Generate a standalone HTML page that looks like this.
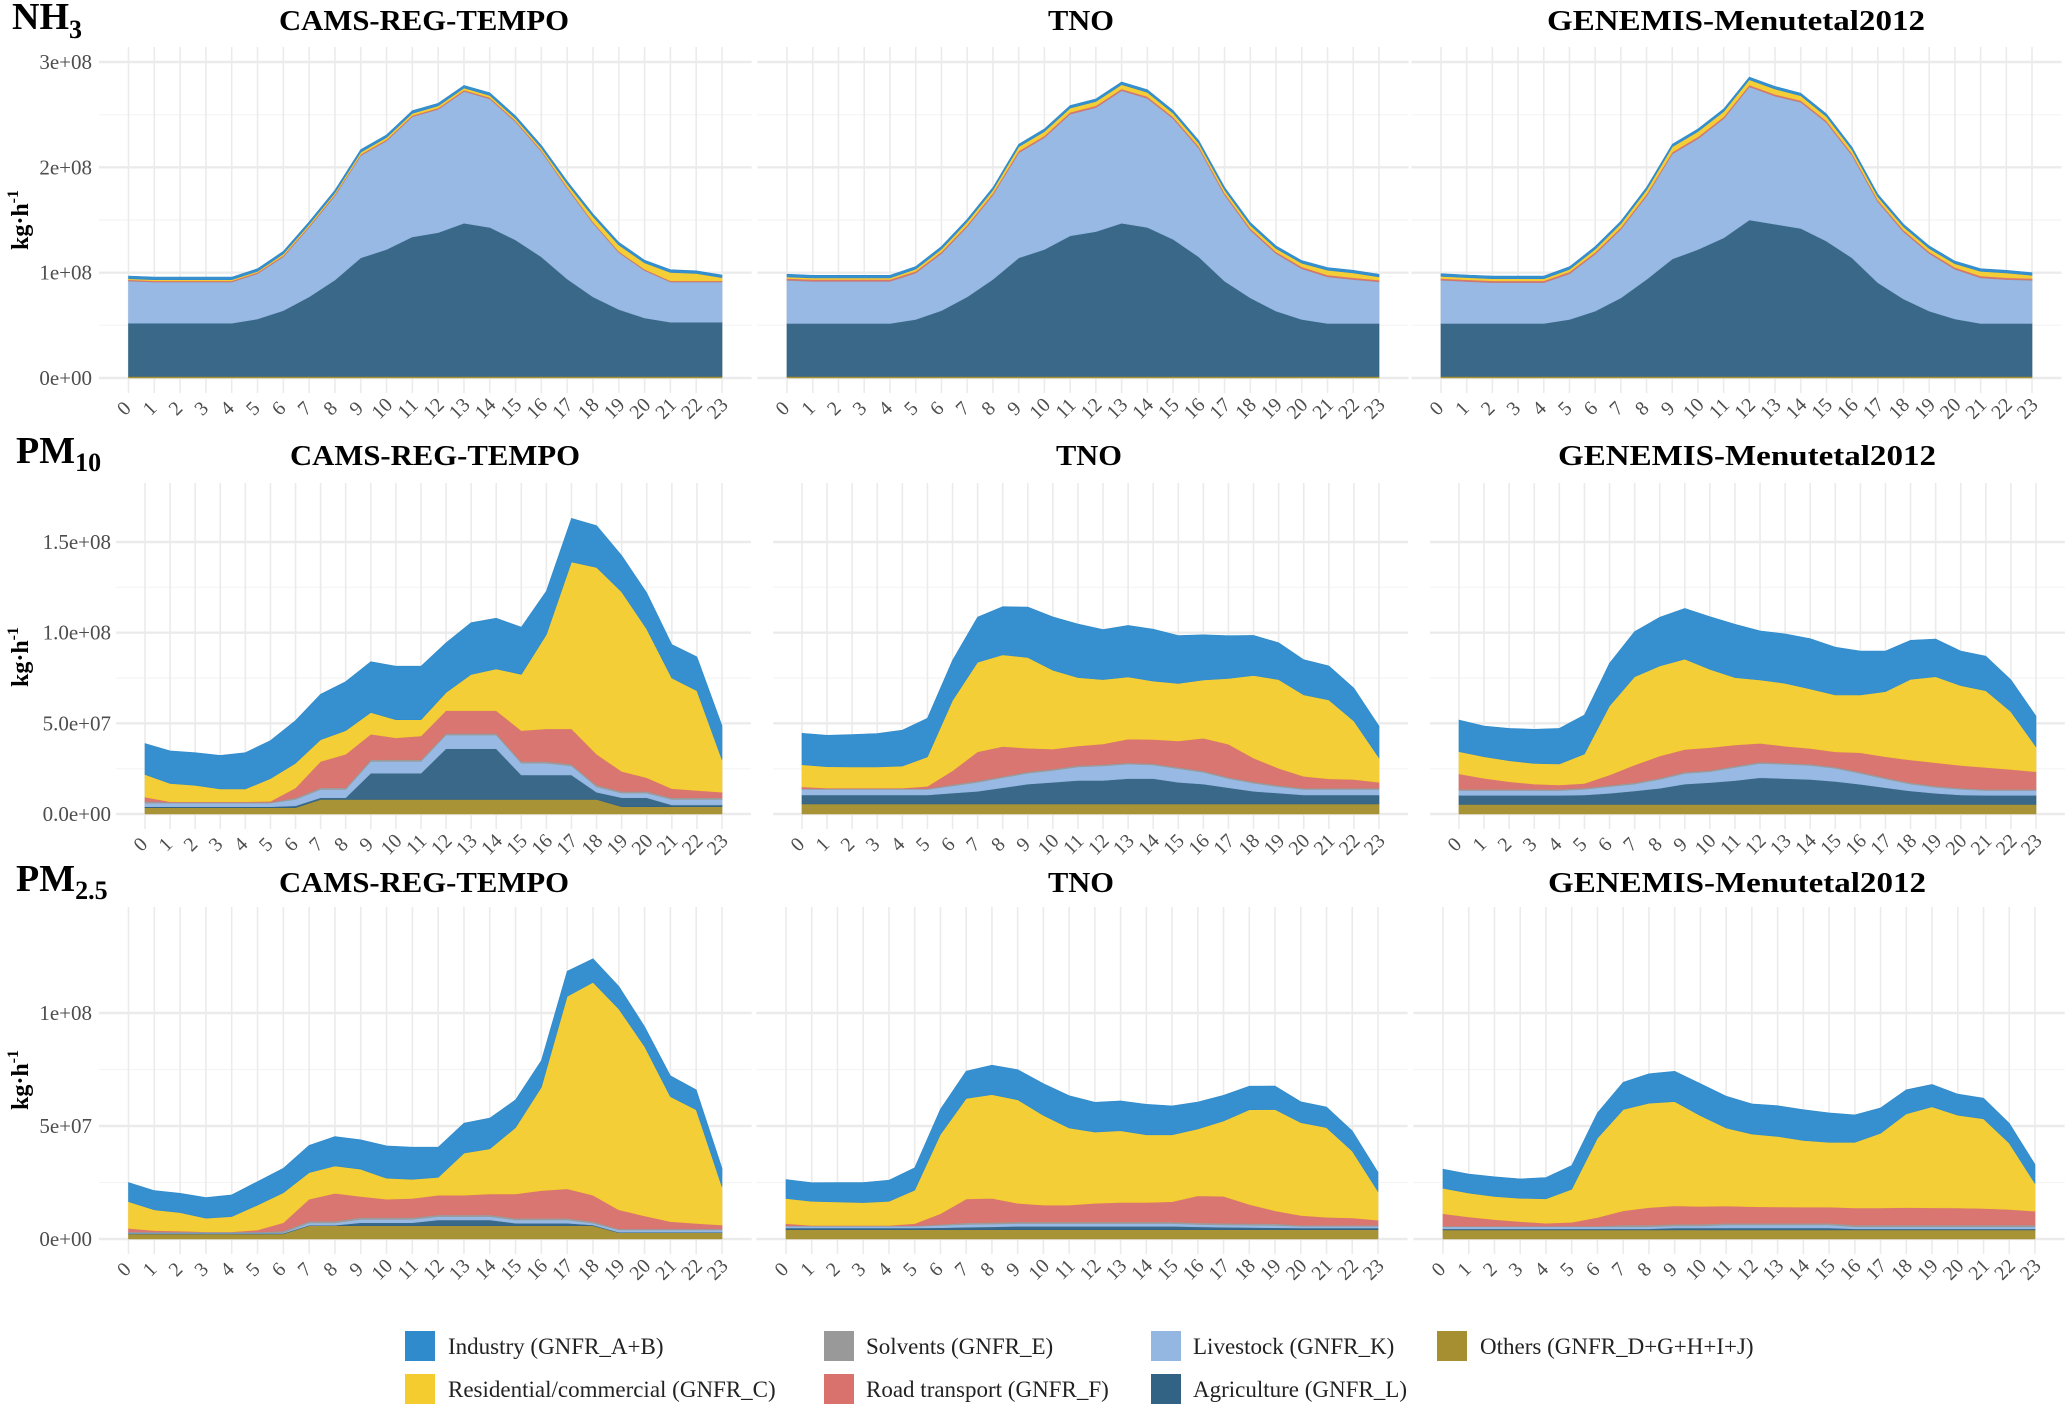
<!DOCTYPE html>
<html><head><meta charset="utf-8"><style>
html,body{margin:0;padding:0;background:#fff;}
svg{display:block;font-family:"Liberation Serif","DejaVu Serif",serif;}
</style></head><body>
<svg id="chart" width="2067" height="1407" viewBox="0 0 2067 1407" xmlns="http://www.w3.org/2000/svg">
<g id="panels"></g>
<g font-weight="bold" fill="#000">
<text x="12" y="29" font-size="38">NH<tspan font-size="26" dy="9">3</tspan></text>
<text x="16" y="463" font-size="38">PM<tspan font-size="26" dy="8">10</tspan></text>
<text x="16" y="891" font-size="38">PM<tspan font-size="26" dy="8">2.5</tspan></text>
</g>
<g font-size="23" fill="#222">
<g><rect x="405" y="1331" width="30" height="30" fill="#2f8bcc"/><text x="448" y="1354">Industry (GNFR_A+B)</text></g>
<g><rect x="824" y="1331" width="30" height="30" fill="#999999"/><text x="866" y="1354">Solvents (GNFR_E)</text></g>
<g><rect x="1151" y="1331" width="30" height="30" fill="#94b7e2"/><text x="1193" y="1354">Livestock (GNFR_K)</text></g>
<g><rect x="1437" y="1331" width="30" height="30" fill="#a58f30"/><text x="1480" y="1354">Others (GNFR_D+G+H+I+J)</text></g>
<g><rect x="405" y="1374" width="30" height="30" fill="#f4cc30"/><text x="448" y="1397">Residential/commercial (GNFR_C)</text></g>
<g><rect x="824" y="1374" width="30" height="30" fill="#d9726c"/><text x="866" y="1397">Road transport (GNFR_F)</text></g>
<g><rect x="1151" y="1374" width="30" height="30" fill="#336384"/><text x="1193" y="1397">Agriculture (GNFR_L)</text></g>
</g>
</svg>
<script>
// values in units of 1e6 kg/h, hours 0..23
const hours = ["0","1","2","3","4","5","6","7","8","9","10","11","12","13","14","15","16","17","18","19","20","21","22","23"];
const sectors = ["oth","agri","live","solv","road","resid","ind"];
const nh3YTicks = [0,100,200,300];
const nh3YLabels = ["0e+00","1e+08","2e+08","3e+08"];
const pm10YTicks = [0,50,100,150];
const pm10YLabels = ["0.0e+00","5.0e+07","1.0e+08","1.5e+08"];
const pm25YTicks = [0,50,100];
const pm25YLabels = ["0e+00","5e+07","1e+08"];

// NH3 CAMS
const nh3_cams_oth = [1.5,1.5,1.5,1.5,1.5,1.5,1.5,1.5,1.5,1.5,1.5,1.5,1.5,1.5,1.5,1.5,1.5,1.5,1.5,1.5,1.5,1.5,1.5,1.5];
const nh3_cams_agri = [50.5,50.5,50.5,50.5,50.5,54.5,62.5,75.5,91.5,112.5,120.5,132.5,136.5,145.5,141.5,129.5,113.5,92.5,75.5,63.5,55.5,51.5,51.5,51.5];
const nh3_cams_live = [40,39,39,39,39,43,51,66,80,97,103,114,117,125,122,112,100,86,70,54,45,38,38,38];
const nh3_cams_solv = [0.3,0.3,0.3,0.3,0.3,0.3,0.3,0.3,0.3,0.3,0.3,0.3,0.3,0.3,0.3,0.3,0.3,0.3,0.3,0.3,0.3,0.3,0.3,0.3];
const nh3_cams_road = [1,1,1,1,1,1,1,1,1,1,1,1,1,1,1,1,1,1,1,1,1,1,1,1];
const nh3_cams_resid = [1,1,1,1,1,1,1.5,1.5,1.5,2,2,2,2,2,2,2,2,3,5,6,6,8,7,3];
const nh3_cams_ind = [2.5,2.5,2.5,2.5,2.5,2.5,2.5,2.5,2.5,2.5,2.5,2.5,2.5,2.5,2.5,2.5,2.5,2.5,2.5,2.5,2.5,2.5,2.5,2.5];
// NH3 TNO
const nh3_tno_oth = [1.5,1.5,1.5,1.5,1.5,1.5,1.5,1.5,1.5,1.5,1.5,1.5,1.5,1.5,1.5,1.5,1.5,1.5,1.5,1.5,1.5,1.5,1.5,1.5];
const nh3_tno_agri = [50.2,50.2,50.2,50.2,50.2,54.1,62.5,75.5,92.1,112.5,120.5,133.5,137.5,145.5,141.5,130.2,113.5,90.5,74.5,62,54.1,50.2,50.2,50.2];
const nh3_tno_live = [41,40,40,40,40,44,54,66.5,80,99.7,106.2,115.4,117.7,125.7,122.4,114.5,103.1,81.7,64.3,54.6,48.1,44.3,41.7,39.5];
const nh3_tno_solv = [0.3,0.3,0.3,0.3,0.3,0.3,0.3,0.3,0.3,0.3,0.3,0.3,0.3,0.3,0.3,0.3,0.3,0.3,0.3,0.3,0.3,0.3,0.3,0.3];
const nh3_tno_road = [1.5,1.5,1.5,1.5,1.5,1.5,1.5,1.5,1.5,1.5,1.5,1.5,1.5,1.5,1.5,1.5,1.5,1.5,1.5,1.5,1.5,1.5,1.5,1.5];
const nh3_tno_resid = [1.5,1.5,1.5,1.5,1.5,2,2.5,3,3,4,4,4,4,4,4,3.5,3,3,3,3,3.5,4.5,4.5,3];
const nh3_tno_ind = [2.5,2.5,2.5,2.5,2.5,2.5,2.5,2.5,2.5,2.5,2.5,2.5,2.5,2.5,2.5,2.5,2.5,2.5,2.5,2.5,2.5,2.5,2.5,2.5];
// NH3 GENEMIS
const nh3_gen_oth = [1.5,1.5,1.5,1.5,1.5,1.5,1.5,1.5,1.5,1.5,1.5,1.5,1.5,1.5,1.5,1.5,1.5,1.5,1.5,1.5,1.5,1.5,1.5,1.5];
const nh3_gen_agri = [50.2,50.2,50.2,50.2,50.2,54.1,62,74.5,92.1,111.5,120.5,131.5,148.5,144.5,140.5,128.5,112.5,89,73.5,62,54.5,50.2,50.2,50.2];
const nh3_gen_live = [41,39.8,38.8,38.8,38.8,43.3,54,65.2,79.1,99.7,105.2,113.2,126.4,121.5,119.7,112.5,97.2,76.8,63.7,54.6,47.2,43.3,41.7,41];
const nh3_gen_solv = [0.3,0.3,0.3,0.3,0.3,0.3,0.3,0.3,0.3,0.3,0.3,0.3,0.3,0.3,0.3,0.3,0.3,0.3,0.3,0.3,0.3,0.3,0.3,0.3];
const nh3_gen_road = [1.5,1.5,1.5,1.5,1.5,1.5,1.5,1.5,1.5,1.5,1.5,1.5,1.5,1.5,1.5,1.5,1.5,1.5,1.5,1.5,1.5,1.5,1.5,1.5];
const nh3_gen_resid = [2,2,2,2,2,2.5,3,3.5,4,5,5,5,5,5,4.5,4,3.5,3,3,3,3.5,4.5,4.5,3];
const nh3_gen_ind = [2.5,2.5,2.5,2.5,2.5,2.5,2.5,2.5,2.5,2.5,2.5,2.5,2.5,2.5,2.5,2.5,2.5,2.5,2.5,2.5,2.5,2.5,2.5,2.5];
// PM10 CAMS
const pm10_cams_oth = [3.5,3.5,3.5,3.5,3.5,3.5,3.5,8,8,8,8,8,8,8,8,8,8,8,8,4,4,4,4,4];
const pm10_cams_agri = [0.5,0.5,0.5,0.5,0.5,0.5,1,1,1,14.5,14.5,14.5,28,28,28,13.5,13.5,13.5,4,5,5,1,1,1];
const pm10_cams_live = [2,2,2,2,2,2,3.5,4.5,4.5,6.5,6.5,6.5,7.5,7.5,7.5,6.5,6.5,5,3,2.5,2.5,3,3,3];
const pm10_cams_solv = [1,0.5,0.5,0.5,0.5,0.5,1,1,1,1,1,1,1,1,1,1,1,1,1,1,1,1,1,1];
const pm10_cams_road = [2.3,0.3,0.3,0.3,0.3,0.5,5.4,14.5,18.5,14,12,13,12.5,12.5,12.5,17,18,19.5,17,11,7.5,5,4,3];
const pm10_cams_resid = [12.5,10,9,7,7,12.5,13.6,12,13,12,10,9,10,20,23,31,52,92,103,99,82,61,55,18];
const pm10_cams_ind = [17,18,18,18.5,20,21,23.5,25,27,28,29.5,29.5,27.4,28.5,28,26,24,24,23,20,20,18.5,18.7,18.7];
// PM10 TNO
const pm10_tno_oth = [5.5,5.5,5.5,5.5,5.5,5.5,5.5,5.5,5.5,5.5,5.5,5.5,5.5,5.5,5.5,5.5,5.5,5.5,5.5,5.5,5.5,5.5,5.5,5.5];
const pm10_tno_agri = [5,5,5,5,5,5,6,7,9,11,12,13,13,14,14,12,11,9,7,6,5,5,5,5];
const pm10_tno_live = [3,3,3,3,3,3,4,5,5.5,6,6.5,7.5,8,8,7.5,7.5,6.5,5,4.5,3.5,3,3,3,3];
const pm10_tno_solv = [0.5,0.5,0.5,0.5,0.5,0.5,0.8,0.8,0.8,0.8,0.8,0.8,0.8,0.8,0.8,0.8,0.8,0.8,0.8,0.8,0.8,0.8,0.8,0.8];
const pm10_tno_road = [1,0.3,0.3,0.3,0.3,1.3,7.5,16,16.4,13,11,10.7,11.3,13,13.3,14.5,18,18.2,13,9.4,6.5,5.1,4.7,3.2];
const pm10_tno_resid = [12.2,11.8,11.7,11.7,12.1,16.2,38.8,49.4,50.6,50,43.5,37.7,35.5,34.3,32.2,31.7,32.1,36.3,45.6,48.9,44.9,43.5,32.3,13.5];
const pm10_tno_ind = [17.3,17.3,17.8,18.4,19.8,21.3,22.1,24.9,26.5,27.8,29.4,29.6,27.6,28.4,28.6,26.4,24.9,23.5,22.1,20.3,19.4,18.8,18.1,17.5];
// PM10 GENEMIS
const pm10_gen_oth = [5.3,5.3,5.3,5.3,5.3,5.3,5.3,5.3,5.3,5.3,5.3,5.3,5.3,5.3,5.3,5.3,5.3,5.3,5.3,5.3,5.3,5.3,5.3,5.3];
const pm10_gen_agri = [5,5,5,5,5,5.2,6.1,7.4,8.9,11.2,12,13.1,14.7,14.2,13.8,12.7,11.1,9.2,7.4,6.1,5.2,5,5,5];
const pm10_gen_live = [2.6,2.6,2.6,2.6,2.6,3.1,3.7,3.8,4.9,5.9,6,7.3,7.9,7.9,7.7,7.2,6,4.8,3.8,3.3,3.1,2.6,2.6,2.6];
const pm10_gen_solv = [0.8,0.8,0.8,0.8,0.8,0.8,0.8,0.8,0.8,0.8,0.8,0.8,0.8,0.8,0.8,0.8,0.8,0.8,0.8,0.8,0.8,0.8,0.8,0.8];
const pm10_gen_road = [8.4,6,4.1,2.8,2.3,2.5,5.6,9.7,12.1,12.4,12.5,11.6,10.3,9.2,8.6,8.3,10.6,11.5,12.5,12.8,12.4,12,10.9,9.6];
const pm10_gen_resid = [12.3,11.9,11.6,11.4,11.6,16.2,38.1,48.7,49.6,49.8,43.2,37.1,34.9,34.7,32.8,31.4,31.8,35.9,44.5,47.4,44,42.3,31.8,13.8];
const pm10_gen_ind = [17.4,16.9,17.8,18.8,19.6,21.5,23.5,24.9,26.9,27.9,29,29.4,27.1,27.2,27.7,26.3,24.3,22.4,21.5,20.8,19.1,19,17.6,16.9];
// PM2.5 CAMS
const pm25_cams_oth = [2.2,2.2,2.2,2.2,2.2,2.2,2.2,5.9,5.9,5.9,5.9,5.9,5.9,5.9,5.9,5.9,5.9,5.9,5.9,2.8,2.8,2.8,2.8,2.8];
const pm25_cams_agri = [0.3,0.3,0.3,0.3,0.3,0.3,0.3,0.2,0.2,1.3,1.3,1.3,2.5,2.5,2.5,1.1,1.1,1.1,0.3,0.2,0.2,0.2,0.2,0.2];
const pm25_cams_live = [0.3,0.3,0.3,0.3,0.3,0.3,0.3,1,1,1.5,1.5,1.5,1.5,1.5,1.5,1.4,1.4,1.4,0.8,1,1,1,1,1];
const pm25_cams_solv = [0.3,0.3,0.3,0.3,0.3,0.3,0.8,0.8,0.8,0.8,0.8,0.8,0.8,0.8,0.8,0.8,0.8,0.8,0.8,0.5,0.5,0.5,0.5,0.5];
const pm25_cams_road = [1.6,0.6,0.4,0.1,0.1,0.9,3.6,9.7,12.3,9.3,8.1,8.4,8.7,8.7,9.2,10.7,12.2,13,11.6,8.4,5.7,3.2,2.4,1.7];
const pm25_cams_resid = [11.8,9.2,8.2,6,6.7,11,13.3,11.8,12.1,12.1,9.3,8.5,7.9,18.6,20,29.4,45.8,85.2,94.2,88.9,75,55.3,50.3,17];
const pm25_cams_ind = [8.5,8.5,8.5,9.1,9.6,10.4,10.8,12,13,13,14.3,14.2,13.3,13.3,13.6,12.3,11.8,11.1,10.4,10,8.8,9.2,8.8,8.1];
// PM2.5 TNO
const pm25_tno_oth = [4.1,4.1,4.1,4.1,4.1,4.1,4.1,4.1,4.1,4.1,4.1,4.1,4.1,4.1,4.1,4.1,4.1,4.1,4.1,4.1,4.1,4.1,4.1,4.1];
const pm25_tno_agri = [0.8,0.8,0.8,0.8,0.8,0.8,0.9,1.1,1.3,1.5,1.5,1.5,1.5,1.5,1.5,1.5,1.3,1.1,1,0.9,0.8,0.8,0.8,0.8];
const pm25_tno_live = [0.7,0.7,0.7,0.7,0.7,0.7,1,1.2,1.2,1.2,1.2,1.2,1.2,1.2,1.2,1.2,1,1,1,1,0.7,0.7,0.7,0.7];
const pm25_tno_solv = [0.3,0.3,0.3,0.3,0.3,0.3,0.5,0.8,0.8,0.8,0.8,0.8,0.8,0.8,0.8,0.8,0.8,0.8,0.8,0.8,0.5,0.5,0.5,0.5];
const pm25_tno_road = [0.9,0.1,0.1,0.1,0.1,0.9,4.7,10.5,10.6,8.2,7.4,7.4,8.2,8.6,8.6,8.9,11.9,11.9,8.4,5.7,4.3,3.5,3.2,2.2];
const pm25_tno_resid = [11.1,10.7,10.4,10.1,10.7,14.8,35.1,44.5,45.9,45.8,39.7,34.1,31.5,31.7,29.9,29.6,29.6,33.3,41.9,44.8,41.1,39.7,29.6,12.8];
const pm25_tno_ind = [8.4,8.2,8.6,8.9,9.3,9.9,11.1,12.1,13,13.3,14,14.3,13.2,13.2,13.5,12.8,11.9,11.4,10.4,10.4,9.2,9.1,8.9,8.4];
// PM2.5 GENEMIS
const pm25_gen_oth = [4,4,4,4,4,4,4,4,4,4,4,4,4,4,4,4,4,4,4,4,4,4,4,4];
const pm25_gen_agri = [0.5,0.5,0.5,0.5,0.5,0.5,0.5,0.5,0.5,0.9,0.9,0.9,0.9,0.9,0.9,0.9,0.5,0.5,0.5,0.5,0.5,0.5,0.5,0.5];
const pm25_gen_live = [0.9,0.9,0.9,0.9,0.9,0.9,0.9,0.9,0.9,0.9,0.9,1.3,1.3,1.3,1.3,1.3,0.9,0.9,0.9,0.9,0.9,0.9,0.9,0.9];
const pm25_gen_solv = [0.3,0.3,0.3,0.3,0.3,0.3,0.3,0.8,0.8,0.8,0.8,0.8,0.8,0.8,0.8,0.8,0.8,0.8,0.8,0.8,0.8,0.8,0.8,0.8];
const pm25_gen_road = [5.5,4.1,2.9,2,1.3,1.7,3.8,6.3,7.7,8.1,7.8,7.6,7.3,7.2,7.1,7.1,7.5,7.5,7.7,7.6,7.5,7.3,6.9,6.1];
const pm25_gen_resid = [11.3,10.5,10.2,10.3,10.8,14.6,35.1,44.8,46.2,46.1,40.2,34.5,32.1,31.2,29.5,28.7,29.1,33.1,41.5,44.7,41.1,39.7,29.3,12.3];
const pm25_gen_ind = [8.4,8.4,8.7,8.6,9.4,10.5,11.2,12.1,13,13.4,14.1,14.1,13.4,13.6,13.6,13,12.1,11.2,10.6,9.9,9.3,9.1,8.8,8.4];

const colors = {oth:"#a58f30",agri:"#336384",live:"#94b7e2",solv:"#999999",road:"#d9726c",resid:"#f4cc30",ind:"#2f8bcc"};
const NS = "http://www.w3.org/2000/svg";
function mk(tag, attrs, parent){
  const e = document.createElementNS(NS, tag);
  for (const k in attrs) e.setAttribute(k, attrs[k]);
  parent.appendChild(e);
  return e;
}
const rows = [
  {key:"nh3", top:47, bottom:393, y0:378, yTopVal:300, yTopPx:62, ticks:nh3YTicks, labels:nh3YLabels, labelX:92, titleY:30, axTitleY:220, xLabY:413,
   cols:[[128.5,722],[787,1379],[1441,2032]],
   series:[[nh3_cams_oth,nh3_cams_agri,nh3_cams_live,nh3_cams_solv,nh3_cams_road,nh3_cams_resid,nh3_cams_ind],
           [nh3_tno_oth,nh3_tno_agri,nh3_tno_live,nh3_tno_solv,nh3_tno_road,nh3_tno_resid,nh3_tno_ind],
           [nh3_gen_oth,nh3_gen_agri,nh3_gen_live,nh3_gen_solv,nh3_gen_road,nh3_gen_resid,nh3_gen_ind]]},
  {key:"pm10", top:483, bottom:829, y0:814, yTopVal:150, yTopPx:542, ticks:pm10YTicks, labels:pm10YLabels, labelX:111, titleY:465, axTitleY:657, xLabY:849,
   cols:[[145,722],[802,1379],[1459,2036]],
   series:[[pm10_cams_oth,pm10_cams_agri,pm10_cams_live,pm10_cams_solv,pm10_cams_road,pm10_cams_resid,pm10_cams_ind],
           [pm10_tno_oth,pm10_tno_agri,pm10_tno_live,pm10_tno_solv,pm10_tno_road,pm10_tno_resid,pm10_tno_ind],
           [pm10_gen_oth,pm10_gen_agri,pm10_gen_live,pm10_gen_solv,pm10_gen_road,pm10_gen_resid,pm10_gen_ind]]},
  {key:"pm25", top:907, bottom:1254, y0:1239, yTopVal:100, yTopPx:1013, ticks:pm25YTicks, labels:pm25YLabels, labelX:92, titleY:892, axTitleY:1080, xLabY:1274,
   cols:[[128.5,722],[786,1378],[1443,2035]],
   series:[[pm25_cams_oth,pm25_cams_agri,pm25_cams_live,pm25_cams_solv,pm25_cams_road,pm25_cams_resid,pm25_cams_ind],
           [pm25_tno_oth,pm25_tno_agri,pm25_tno_live,pm25_tno_solv,pm25_tno_road,pm25_tno_resid,pm25_tno_ind],
           [pm25_gen_oth,pm25_gen_agri,pm25_gen_live,pm25_gen_solv,pm25_gen_road,pm25_gen_resid,pm25_gen_ind]]}
];
const titles = ["CAMS-REG-TEMPO","TNO","GENEMIS-Menutetal2012"];
const titleNames = ["cams","tno","genemis"];
const titleCenters = [[424,1081,1736],[435,1089,1747],[424,1081,1737]];
const titleWidths = [290,66,378];
const root = document.getElementById("panels");

rows.forEach((r, ri) => {
  const yScale = v => r.y0 - (v / r.yTopVal) * (r.y0 - r.yTopPx);
  const at = mk("text", {x:0, y:0, "font-size":24, "font-weight":"bold", "text-anchor":"middle", transform:`translate(28,${r.axTitleY}) rotate(-90)`, fill:"#000"}, root);
  
  
  at.textContent = "kg·h";
  const sup = mk("tspan", {"font-size":16, dy:-10}, at);
  sup.textContent = "-1";
  r.cols.forEach((c, ci) => {
    const g = mk("g", {}, root);
    
    
    const step = (c[1] - c[0]) / 23;
    const xScale = i => c[0] + i * step;
    const left = c[0] - 1.15 * step, right = c[1] + 1.15 * step;
    for (let k = 0; k < r.ticks.length - 1; k++) {
      const mid = (r.ticks[k] + r.ticks[k+1]) / 2;
      const ln = mk("line", {x1:left, x2:right, y1:yScale(mid), y2:yScale(mid), stroke:"#f4f4f4", "stroke-width":1.2}, g);
      
      
    }
    r.ticks.forEach(t => {
      const ln = mk("line", {x1:left, x2:right, y1:yScale(t), y2:yScale(t), stroke:"#ebebeb", "stroke-width":2.4}, g);
      
      
    });
    hours.forEach((h, i) => {
      const ln = mk("line", {x1:xScale(i), x2:xScale(i), y1:r.top, y2:r.bottom, stroke:"#ebebeb", "stroke-width":1.6}, g);
      
      
      const tl = mk("text", {x:0, y:0, "font-size":20, fill:"#4d4d4d", "text-anchor":"middle", transform:`translate(${xScale(i)},${r.xLabY}) rotate(-45)`}, g);
      
      
      tl.textContent = h;
    });
    if (ci === 0) {
      r.ticks.forEach((t, k) => {
        const tl = mk("text", {x:r.labelX, y:yScale(t) + 7, "font-size":21, fill:"#4d4d4d", "text-anchor":"end"}, g);
        
        
        tl.textContent = r.labels[k];
      });
    }
    const base = hours.map(() => 0);
    r.series[ci].forEach((arr, si) => {
      const lower = base.slice();
      const upper = base.map((b, i) => b + arr[i]);
      let d = "";
      upper.forEach((u, i) => { d += (i ? "L" : "M") + xScale(i).toFixed(1) + "," + yScale(u).toFixed(1); });
      for (let i = 23; i >= 0; i--) d += "L" + xScale(i).toFixed(1) + "," + yScale(lower[i]).toFixed(1);
      d += "Z";
      const p = mk("path", {d:d, fill:colors[sectors[si]], "fill-opacity":0.97, stroke:colors[sectors[si]], "stroke-width":0.6}, g);
      
      
      upper.forEach((u, i) => base[i] = u);
    });
    const tt = mk("text", {x:titleCenters[ri][ci], y:r.titleY, "font-size":28, "font-weight":"bold", "text-anchor":"middle", fill:"#000", textLength:titleWidths[ci], lengthAdjust:"spacingAndGlyphs"}, g);
    
    
    tt.textContent = titles[ci];
  });
});
</script>
</body></html>
